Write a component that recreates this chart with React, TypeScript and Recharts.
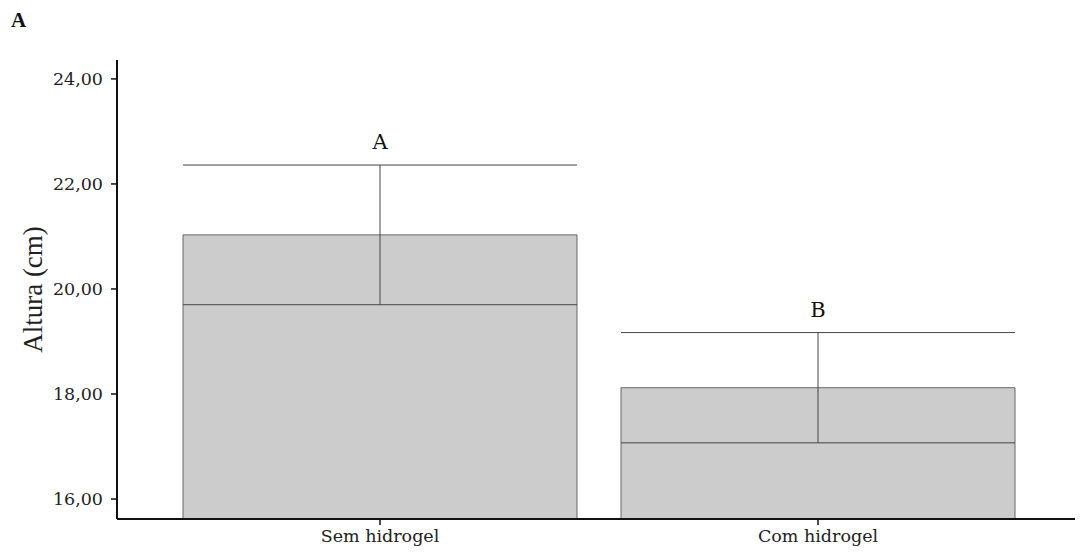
import {
  ComposedChart,
  Bar,
  Line,
  XAxis,
  YAxis,
  ErrorBar,
  LabelList,
  Label,
} from "recharts";

// =========================
// DATOS
// =========================
const treatments = ["Sem hidrogel", "Com hidrogel"];
const meanHeight = [21.03, 18.12];
const errHeight = [1.33, 1.05];
const groupLetters = ["A", "B"];
const yTicks = [16, 18, 20, 22, 24];

const data = treatments.map((name, i) => ({
  name,
  mean: meanHeight[i],
  err: errHeight[i],
  top: meanHeight[i] + errHeight[i],
  letter: groupLetters[i],
}));

const tickFont = "'DejaVu Serif', serif";
const fmt = (v: number) => v.toFixed(2).replace(".", ",");

export default function App() {
  return (
    <div
      style={{
        position: "absolute",
        left: 0,
        top: 0,
        width: 1081,
        height: 554,
        background: "#ffffff",
      }}
    >
      {/* letra do painel */}
      <div
        style={{
          position: "absolute",
          left: 11,
          top: 8,
          fontFamily: "'Liberation Serif', serif",
          fontWeight: "bold",
          fontSize: 21,
          color: "#111",
        }}
      >
        A
      </div>
      <ComposedChart
        width={1081}
        height={554}
        data={data}
        margin={{ top: 60, right: 6, bottom: 0, left: 0 }}
        barCategoryGap={22}
      >
        <XAxis
          dataKey="name"
          height={35}
          padding={{ left: 44, right: 38 }}
          axisLine={{ stroke: "#111", strokeWidth: 2 }}
          tickLine={{ stroke: "#111", strokeWidth: 1.5 }}
          tickSize={6}
          tickMargin={5}
          tick={{ fontSize: 17.5, fill: "#222", fontFamily: tickFont }}
        />
        <YAxis
          width={117}
          domain={[15.62, 24.36]}
          ticks={yTicks}
          allowDataOverflow
          tickFormatter={fmt}
          axisLine={{ stroke: "#111", strokeWidth: 2 }}
          tickLine={{ stroke: "#111", strokeWidth: 1.5 }}
          tickSize={6}
          tickMargin={8}
          tick={{ fontSize: 17.5, fill: "#222", fontFamily: tickFont }}
        >
          <Label
            content={({ viewBox }: any) => {
              const cy = viewBox.y + viewBox.height / 2;
              return (
                <text
                  x={33}
                  y={cy}
                  transform={`rotate(-90, 33, ${cy})`}
                  textAnchor="middle"
                  dominantBaseline="central"
                  fontFamily="'Liberation Serif', serif"
                  fontSize={27}
                  fill="#222"
                >
                  Altura (cm)
                </text>
              );
            }}
          />
        </YAxis>
        <Bar
          dataKey="mean"
          fill="#cccccc"
          stroke="#666666"
          strokeWidth={1}
          isAnimationActive={false}
        >
          <ErrorBar
            dataKey="err"
            width={197}
            stroke="#444444"
            strokeWidth={1}
            isAnimationActive={false}
          />
        </Bar>
        <Line
          dataKey="top"
          stroke="none"
          dot={false}
          activeDot={false}
          isAnimationActive={false}
        >
          <LabelList
            dataKey="letter"
            position="top"
            offset={16}
            fontSize={21}
            fill="#111"
            fontFamily={tickFont}
          />
        </Line>
      </ComposedChart>
    </div>
  );
}
